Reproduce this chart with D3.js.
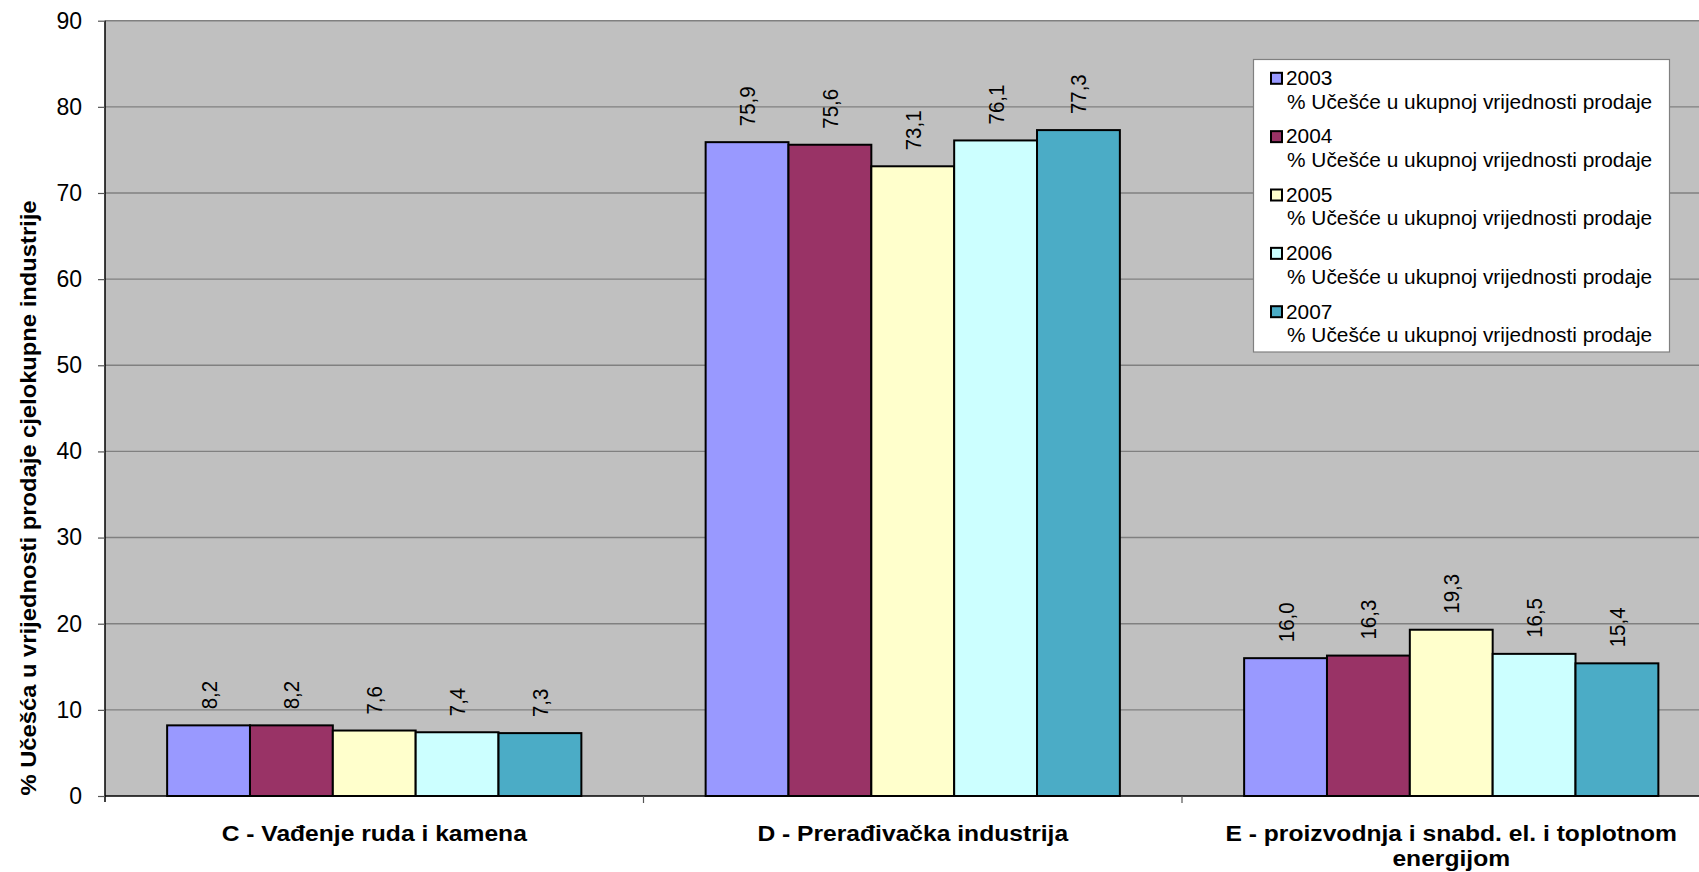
<!DOCTYPE html>
<html>
<head>
<meta charset="utf-8">
<script src="https://cdn.jsdelivr.net/npm/d3@7/dist/d3.min.js"></script>
<style>
  html, body { margin: 0; padding: 0; background: #fff; }
  svg { display: block; font-family: "Liberation Sans", Arial, sans-serif; }
</style>
</head>
<body>
<svg id="chart" width="1699" height="872"></svg>
<script>
// ---- data ----
const categories = [
  ["C - Vađenje ruda i kamena"],
  ["D - Prerađivačka industrija"],
  ["E - proizvodnja i snabd. el. i toplotnom", "energijom"]
];
const seriesNames = ["2003", "2004", "2005", "2006", "2007"];
const seriesSub = "% Učešće u ukupnoj vrijednosti prodaje";
const values2003 = [8.2, 75.9, 16.0];
const values2004 = [8.2, 75.6, 16.3];
const values2005 = [7.6, 73.1, 19.3];
const values2006 = [7.4, 76.1, 16.5];
const values2007 = [7.3, 77.3, 15.4];
const yTicks = [0, 10, 20, 30, 40, 50, 60, 70, 80, 90];
const yTitle = "% Učešća u vrijednosti prodaje cjelokupne industrije";

const seriesValues = [values2003, values2004, values2005, values2006, values2007];
const colors = ["#9999FF", "#993366", "#FFFFCC", "#CCFFFF", "#4BACC6"];

// ---- layout ----
const svg = d3.select("#chart");
const plot = { left: 105, top: 20.7, right: 1720.5, bottom: 796 };

const x0 = d3.scaleBand().domain(d3.range(categories.length))
  .range([plot.left, plot.right]).paddingInner(0).paddingOuter(0);
const x1 = d3.scaleBand().domain(d3.range(seriesNames.length))
  .range([0, x0.bandwidth()]).paddingInner(0).paddingOuter(0.75);
const y = d3.scaleLinear().domain([0, 90]).range([plot.bottom, plot.top]);

const fmt = v => d3.format(".1f")(v).replace(".", ",");

// plot background
svg.append("rect")
  .attr("x", plot.left).attr("y", plot.top)
  .attr("width", plot.right - plot.left).attr("height", plot.bottom - plot.top)
  .attr("fill", "#C0C0C0");

// gridlines
svg.append("g").selectAll("line").data(yTicks.filter(d => d > 0)).join("line")
  .attr("x1", plot.left).attr("x2", plot.right)
  .attr("y1", d => y(d)).attr("y2", d => y(d))
  .attr("stroke", "#808080").attr("stroke-width", 1.4);

// y axis
const yAxis = d3.axisLeft(y).tickValues(yTicks).tickSize(7).tickPadding(16);
const gy = svg.append("g").attr("transform", `translate(${plot.left},0)`).call(yAxis);
gy.select(".domain").attr("stroke", "#000").attr("stroke-width", 1.5)
  .attr("d", `M0,${plot.top}V${plot.bottom + 6}`);
gy.selectAll(".tick line").attr("stroke", "#555").attr("stroke-width", 1.2);
gy.selectAll(".tick text")
  .attr("font-size", 23).attr("fill", "#000")
  .attr("font-family", "Liberation Sans, Arial, sans-serif");

// bars
const groups = svg.append("g").selectAll("g").data(categories).join("g")
  .attr("transform", (d, i) => `translate(${x0(i)},0)`);

groups.each(function (c, ci) {
  const g = d3.select(this);
  const data = seriesValues.map((arr, si) => ({ si, v: arr[ci] }));
  g.selectAll("rect").data(data).join("rect")
    .attr("x", d => x1(d.si))
    .attr("y", d => y(d.v))
    .attr("width", x1.bandwidth())
    .attr("height", d => y(0) - y(d.v))
    .attr("fill", d => colors[d.si])
    .attr("stroke", "#000").attr("stroke-width", 2);
  g.selectAll("text.lbl").data(data).join("text")
    .attr("class", "lbl")
    .attr("transform", d => `translate(${x1(d.si) + x1.bandwidth() / 2},${y(d.v) - 16}) rotate(-90) scale(1,1.12)`)
    .attr("dy", "0.35em")
    .attr("font-size", 20.5)
    .attr("fill", "#000")
    .text(d => fmt(d.v));
});

// x axis line + ticks
svg.append("line")
  .attr("x1", plot.left).attr("x2", plot.right)
  .attr("y1", plot.bottom).attr("y2", plot.bottom)
  .attr("stroke", "#000").attr("stroke-width", 1.5);
svg.append("g").selectAll("line").data(d3.range(1, categories.length)).join("line")
  .attr("x1", i => x0(i)).attr("x2", i => x0(i))
  .attr("y1", plot.bottom).attr("y2", plot.bottom + 7)
  .attr("stroke", "#555").attr("stroke-width", 1.2);

// category labels
categories.forEach((lines, i) => {
  const cx = x0(i) + x0.bandwidth() / 2;
  lines.forEach((t, li) => {
    svg.append("text")
      .attr("transform", `translate(${cx},${841 + li * 25}) scale(1.12,1)`)
      .attr("text-anchor", "middle")
      .attr("font-size", 22).attr("font-weight", "bold").attr("fill", "#000")
      .text(t);
  });
});

// y title
svg.append("text")
  .attr("transform", `translate(28,498) rotate(-90) scale(1.1,1)`)
  .attr("text-anchor", "middle").attr("dy", "0.35em")
  .attr("font-size", 21.6).attr("font-weight", "bold").attr("fill", "#000")
  .text(yTitle);

// legend
const leg = { x: 1253.5, y: 59.5, w: 416, h: 292.5 };
svg.append("rect")
  .attr("x", leg.x).attr("y", leg.y).attr("width", leg.w).attr("height", leg.h)
  .attr("fill", "#fff").attr("stroke", "#808080").attr("stroke-width", 1.2);
const li = svg.append("g").selectAll("g").data(seriesNames).join("g")
  .attr("transform", (d, i) => `translate(0,${78.3 + i * 58.35})`);
li.append("rect")
  .attr("x", 1271).attr("y", -5.5).attr("width", 11).attr("height", 11)
  .attr("fill", (d, i) => colors[i]).attr("stroke", "#000").attr("stroke-width", 2);
li.append("text")
  .attr("transform", "translate(1286,0) scale(1.07,1)")
  .attr("dy", "0.35em").attr("font-size", 19.5).attr("fill", "#000")
  .text(d => d);
li.append("text")
  .attr("transform", "translate(1287,23.4) scale(1.07,1)")
  .attr("dy", "0.35em").attr("font-size", 19.5).attr("fill", "#000")
  .text(seriesSub);
</script>
</body>
</html>
